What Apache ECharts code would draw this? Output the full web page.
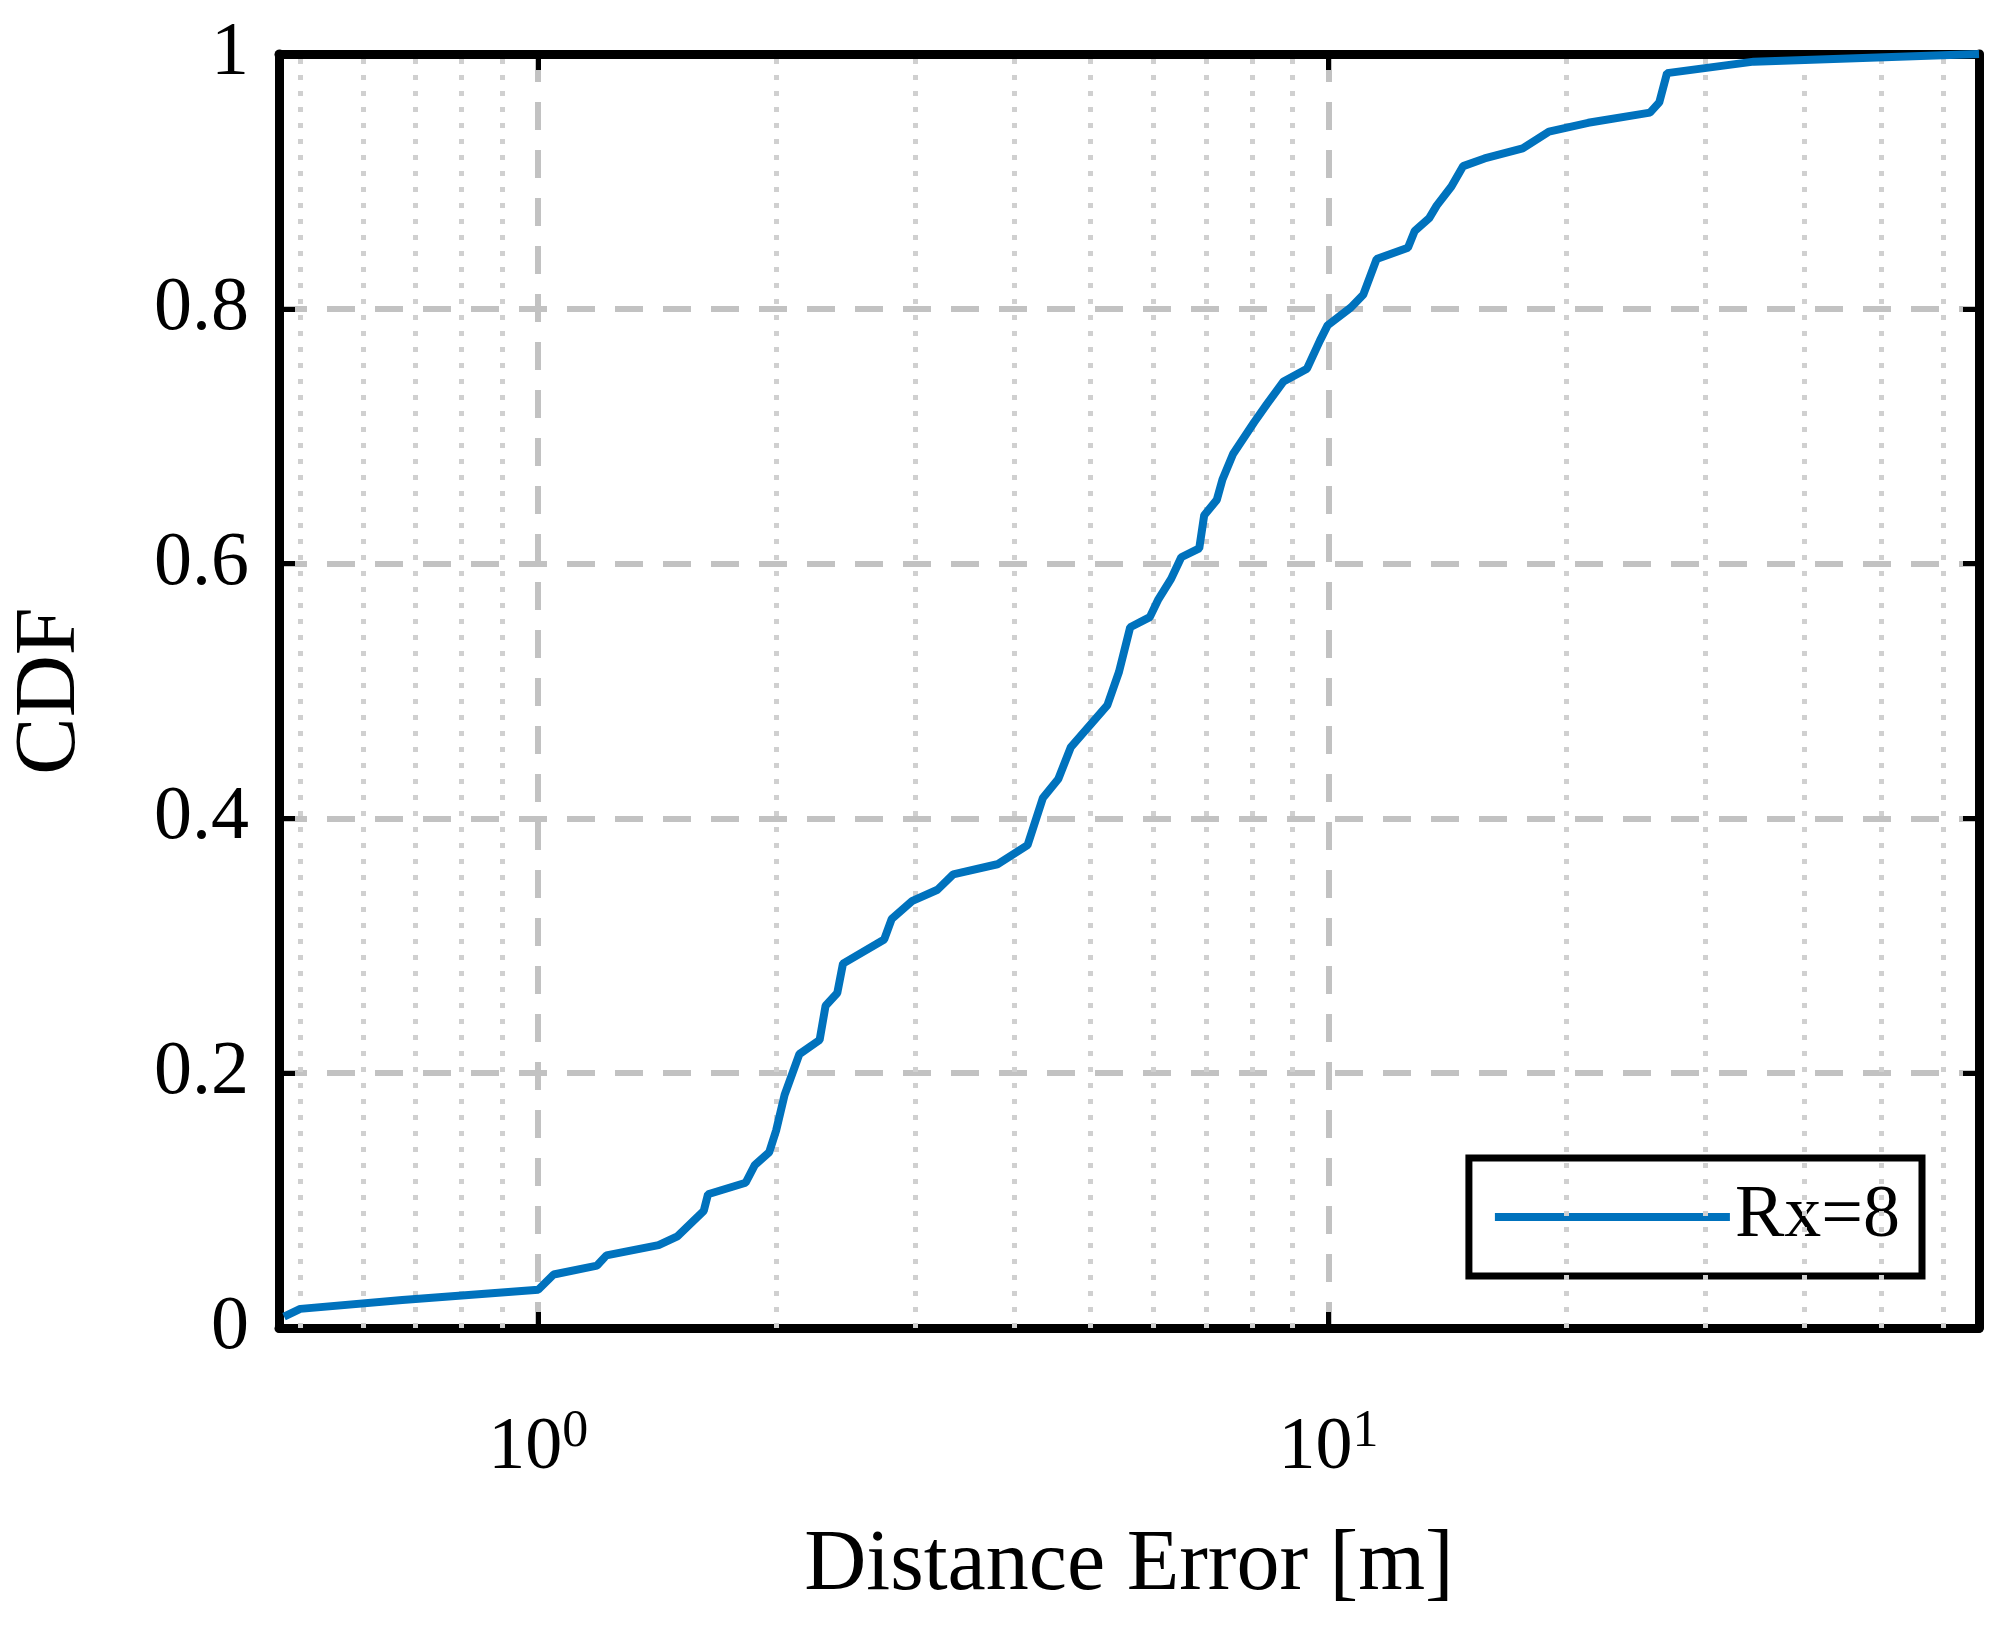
<!DOCTYPE html>
<html>
<head>
<meta charset="utf-8">
<script src="https://cdn.jsdelivr.net/npm/echarts@6/dist/echarts.min.js"></script>
<style>html,body{margin:0;padding:0;background:#fff}#main{width:2013px;height:1631px}</style>
</head>
<body>
<div id="main"></div>
<script>
// distance error [m] and CDF
var errX = [0.477, 0.5, 0.673, 1.0, 1.046, 1.187, 1.22, 1.42, 1.5, 1.62, 1.64, 1.83, 1.88, 1.96, 2.0, 2.05, 2.14, 2.27, 2.31, 2.39, 2.43, 2.74, 2.8, 2.97, 3.2, 3.35, 3.81, 4.16, 4.35, 4.55, 4.72, 5.25, 5.43, 5.61, 5.94, 6.09, 6.32, 6.51, 6.86, 6.96, 7.22, 7.34, 7.57, 8.05, 8.35, 8.77, 9.39, 9.75, 9.97, 10.67, 11.06, 11.5, 12.6, 12.85, 13.4, 13.7, 14.3, 14.8, 15.75, 17.6, 19.0, 21.3, 25.5, 26.2, 26.8, 34.5, 66.5];
var cdfY = [0.009, 0.015, 0.022, 0.03, 0.042, 0.049, 0.057, 0.065, 0.072, 0.092, 0.105, 0.114, 0.128, 0.138, 0.155, 0.183, 0.215, 0.226, 0.253, 0.263, 0.286, 0.305, 0.321, 0.335, 0.344, 0.356, 0.364, 0.379, 0.416, 0.431, 0.456, 0.489, 0.515, 0.55, 0.558, 0.572, 0.588, 0.605, 0.612, 0.638, 0.65, 0.666, 0.686, 0.711, 0.725, 0.743, 0.753, 0.775, 0.787, 0.801, 0.811, 0.839, 0.848, 0.861, 0.871, 0.881, 0.896, 0.912, 0.918, 0.926, 0.939, 0.946, 0.954, 0.962, 0.985, 0.994, 1.0];
var minorX = [0.5, 0.6, 0.7, 0.8, 0.9, 2, 3, 4, 5, 6, 7, 8, 9, 20, 30, 40, 50, 60];
var xTicks = [1, 10];
var yTicks = [0, 0.2, 0.4, 0.6, 0.8, 1];

var pts = [];
for (var i = 0; i < errX.length; i++) pts.push([errX[i], cdfY[i]]);
var minorLines = [];
for (var j = 0; j < minorX.length; j++) minorLines.push({xAxis: minorX[j]});

var font = 'Liberation Serif';
var frame = {show: true, onZero: false, lineStyle: {color: '#000', width: 9}};
var tick = {inside: true, length: 16, lineStyle: {width: 5, color: '#000'}};
var myChart = echarts.init(document.getElementById('main'));
var option = {
    backgroundColor: '#fff',
    animation: false,
    grid: {left: 277, right: 34, top: 54, bottom: 303},
    legend: {
        right: 91, top: 1158, orient: 'vertical',
        borderColor: '#000', borderWidth: 7, backgroundColor: '#fff',
        padding: [22, 22, 22, 26],
        itemWidth: 235, itemHeight: 8, itemGap: 0,
        icon: 'rect',
        textStyle: {fontFamily: font, fontSize: 74, color: '#000'},
        data: ['Rx=8']
    },
    xAxis: [{
        type: 'log', logBase: 10, min: 0.47, max: 66.5,
        name: 'Distance Error [m]', nameLocation: 'middle', nameGap: 195,
        nameTextStyle: {fontFamily: font, fontSize: 86, color: '#000'},
        axisLine: frame,
        axisTick: tick,
        axisLabel: {
            margin: 78, fontFamily: font, color: '#000', showMinLabel: false, showMaxLabel: false,
            formatter: function (v) {
                var k = Math.round(Math.log10(v));
                if (Math.abs(v - Math.pow(10, k)) > 1e-6 * v || xTicks.indexOf(Math.pow(10, k)) < 0) return '';
                return '{b|10}{s|' + k + '}';
            },
            rich: {b: {fontFamily: font, fontSize: 74, color: '#000'},
                   s: {fontFamily: font, fontSize: 52, color: '#000', verticalAlign: 'top', padding: [0, 0, 34, 0]}}
        },
        splitLine: {show: true, lineStyle: {type: [28, 20], color: '#c2c2c2', width: 6}}
    }, {
        type: 'log', logBase: 10, min: 0.47, max: 66.5, position: 'top',
        axisLine: frame, axisTick: tick,
        axisLabel: {show: false}, splitLine: {show: false}
    }],
    yAxis: [{
        type: 'value', min: 0, max: 1, interval: 0.2,
        name: 'CDF', nameLocation: 'middle', nameGap: 185, nameRotate: 90,
        nameTextStyle: {fontFamily: font, fontSize: 86, color: '#000'},
        axisLine: frame, axisTick: tick,
        axisLabel: {
            margin: 30, fontFamily: font, fontSize: 76, color: '#000',
            formatter: function (v) { var r = Math.round(v * 10) / 10; return yTicks.indexOf(r) >= 0 ? String(r) : ''; }
        },
        splitLine: {show: true, lineStyle: {type: [28, 20], color: '#c2c2c2', width: 6}}
    }, {
        type: 'value', min: 0, max: 1, interval: 0.2, position: 'right',
        axisLine: frame, axisTick: tick,
        axisLabel: {show: false}, splitLine: {show: false}
    }],
    series: [{
        name: 'Rx=8', type: 'line', data: pts, showSymbol: false,
        lineStyle: {color: '#0072BD', width: 8}, itemStyle: {color: '#0072BD'},
        markLine: {
            silent: true, symbol: 'none', label: {show: false},
            lineStyle: {type: [5, 11], color: '#d0d0d0', width: 5},
            data: minorLines
        },
        z: 5
    }]
};
myChart.setOption(option);
</script>
</body>
</html>
